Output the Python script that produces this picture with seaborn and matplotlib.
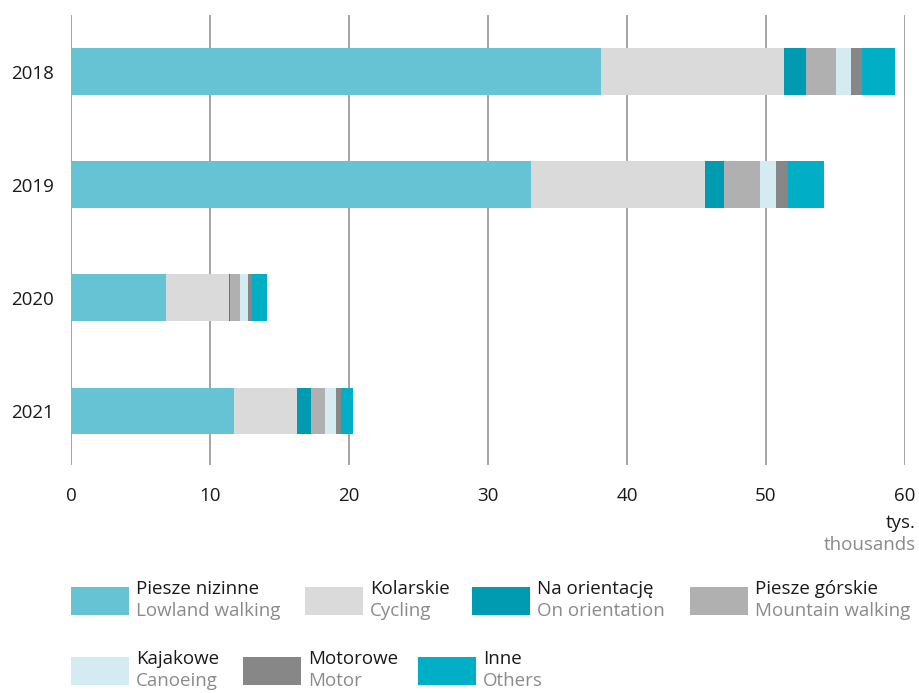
import matplotlib
matplotlib.use("Agg")
import matplotlib.pyplot as plt
import numpy as np
import pandas as pd
import seaborn as sns
from matplotlib.patches import Rectangle

years = ["2018", "2019", "2020", "2021"]
labels_pl = ["Piesze nizinne", "Kolarskie", "Na orientację", "Piesze górskie",
             "Kajakowe", "Motorowe", "Inne"]
labels_en = ["Lowland walking", "Cycling", "On orientation", "Mountain walking",
             "Canoeing", "Motor", "Others"]
lowland = [38.1, 33.1, 6.86, 11.7]
cycling = [13.2, 12.5, 4.51, 4.58]
orientation = [1.6, 1.4, 0.1, 0.99]
mountain = [2.1, 2.6, 0.7, 1.0]
canoe = [1.1, 1.1, 0.57, 0.79]
motor = [0.8, 0.9, 0.27, 0.34]
others = [2.4, 2.6, 1.12, 0.91]
colors = ["#66c3d4", "#dadada", "#009bb0", "#b0b0b0", "#d5ebf2", "#878787", "#00afc6"]

series = [lowland, cycling, orientation, mountain, canoe, motor, others]

sns.set_theme(style="white")
plt.rcParams["font.family"] = ["Open Sans", "DejaVu Sans"]
FS = 13.5

df = pd.DataFrame(dict(zip(labels_pl, series)), index=years)
cum = df.cumsum(axis=1)

fig = plt.figure(figsize=(9.19, 6.93), dpi=100)
ax = fig.add_axes([71 / 919, 1 - 465 / 693, (905 - 71) / 919, (465 - 15) / 693])

# draw cumulative totals from the widest down so each layer sits on top
for name, color in reversed(list(zip(labels_pl, colors))):
    sns.barplot(x=cum[name].values, y=years, order=years, orient="h",
                color=color, saturation=1, width=0.41, linewidth=0,
                edgecolor="none", ax=ax, zorder=2)

ax.set_xlim(0, 60)
ax.set_ylim(3.48, -0.5)
ax.set_xticks(range(0, 61, 10))
ax.grid(axis="x", color="#8c8c8c", linewidth=1.1, zorder=0)
ax.grid(axis="y", visible=False)
ax.set_axisbelow(True)
for s in ax.spines.values():
    s.set_visible(False)
ax.tick_params(axis="x", length=0, pad=16, labelsize=FS, labelcolor="#1a1a1a")
ax.tick_params(axis="y", length=0, pad=12, labelsize=FS, labelcolor="#1a1a1a")
ax.set_xlabel("")
ax.set_ylabel("")

fig.text(905 / 919 + 0.012, 1 - 523 / 693, "tys.", ha="right", va="center",
         fontsize=FS, color="#1a1a1a")
fig.text(905 / 919 + 0.012, 1 - 545 / 693, "thousands", ha="right", va="center",
         fontsize=FS, color="#8a8a8a")

# legend: two text lines per entry, drawn by hand
legend_x = [71, 305, 472, 690, 71, 243, 418]
legend_row = [0, 0, 0, 0, 1, 1, 1]
row_y = [587, 657]
box_w, box_h = 58, 28
W, H = 919, 693
for i in range(len(labels_pl)):
    x0 = legend_x[i]
    y0 = row_y[legend_row[i]]
    fig.patches.append(Rectangle((x0 / W, 1 - (y0 + box_h) / H), box_w / W, box_h / H,
                                 transform=fig.transFigure, facecolor=colors[i],
                                 edgecolor="none"))
    fig.text((x0 + box_w + 7) / W, 1 - (y0 + 2) / H, labels_pl[i], ha="left",
             va="center", fontsize=FS, color="#1a1a1a")
    fig.text((x0 + box_w + 7) / W, 1 - (y0 + 24) / H, labels_en[i], ha="left",
             va="center", fontsize=FS, color="#8a8a8a")

fig.savefig("out.png", dpi=100)
